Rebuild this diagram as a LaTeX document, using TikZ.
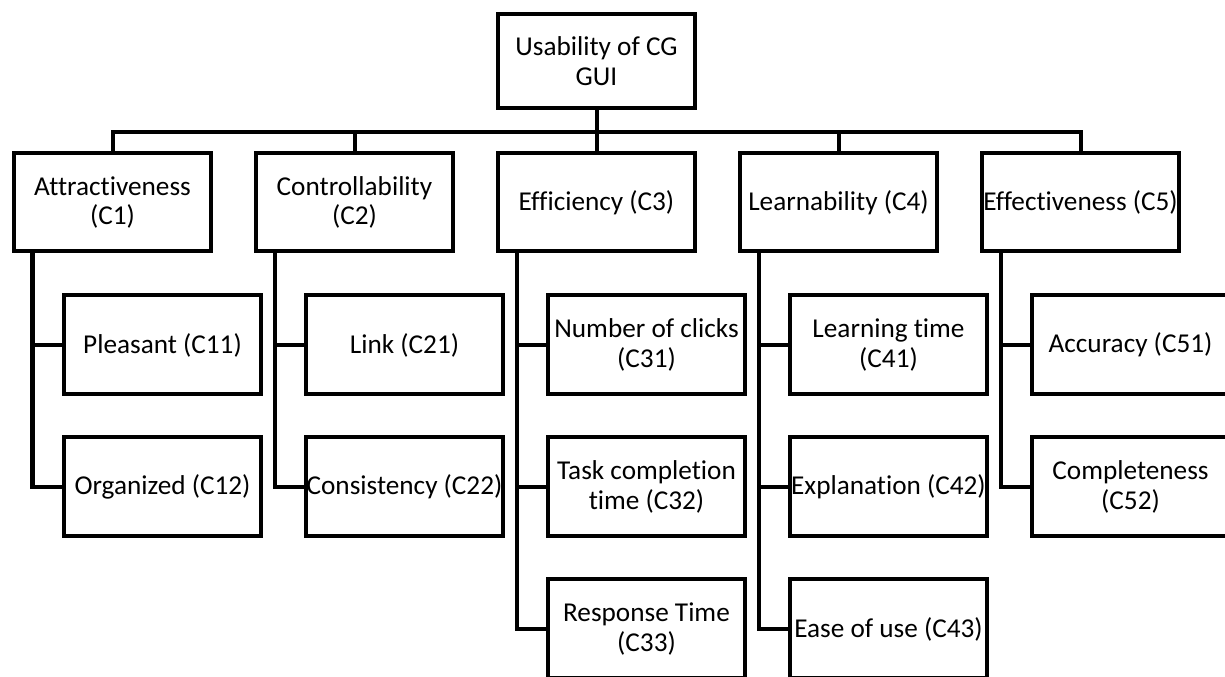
\documentclass[tikz,border=0pt]{standalone}
\usepackage{fontspec}
\setmainfont{Carlito}[Ligatures={NoCommon}]

\begin{document}
\begin{tikzpicture}[
      box/.style={rectangle, draw, line width=0.08cm, align=center,
                  minimum width=3.94cm, minimum height=1.96cm, inner sep=0pt,
                  font=\fontsize{15.5}{17}\selectfont},
      goal/.style={box, minimum height=1.88cm},
      crit/.style={box},
      sub/.style={box, minimum height=1.98cm},
      conn/.style={line width=0.08cm},
    ]
    \clip (0,0) rectangle (24.5,13.54);

    % Goal
    \node[goal] (root) at (11.93, 12.32) {Usability of CG\\GUI};

    % Criteria
    \node[crit] (c1) at (2.25, 9.49) {Attractiveness\\(C1)};
    \node[crit] (c2) at (7.09, 9.49) {Controllability\\(C2)};
    \node[crit] (c3) at (11.93, 9.49) {Efficiency (C3)};
    \node[crit] (c4) at (16.77, 9.49) {Learnability (C4)};
    \node[crit] (c5) at (21.61, 9.49) {Effectiveness (C5)};

    % Sub-criteria of C1 and C2
    \node[sub] (c11) at (3.25, 6.64) {Pleasant (C11)};
    \node[sub] (c12) at (3.25, 3.80) {Organized (C12)};
    \node[sub] (c21) at (8.09, 6.64) {Link (C21)};
    \node[sub] (c22) at (8.09, 3.80) {Consistency (C22)};

    % Sub-criteria of C3
    \node[sub] (c31) at (12.93, 6.64) {Number of clicks\\(C31)};
    \node[sub] (c32) at (12.93, 3.80) {Task completion\\time (C32)};
    \node[sub] (c33) at (12.93, 0.96) {Response Time\\(C33)};

    % Sub-criteria of C4
    \node[sub] (c41) at (17.77, 6.64) {Learning time\\(C41)};
    \node[sub] (c42) at (17.77, 3.80) {Explanation (C42)};
    \node[sub] (c43) at (17.77, 0.96) {Ease of use (C43)};

    % Sub-criteria of C5
    \node[sub] (c51) at (22.61, 6.64) {Accuracy (C51)};
    \node[sub] (c52) at (22.61, 3.80) {Completeness\\(C52)};

    % Lines: goal to criteria
    \draw[conn] (root.south) -- ++(0,-0.44) -| (c1.north);
    \draw[conn] (root.south) -- ++(0,-0.44) -| (c2.north);
    \draw[conn] (root.south) -- (c3.north);
    \draw[conn] (root.south) -- ++(0,-0.44) -| (c4.north);
    \draw[conn] (root.south) -- ++(0,-0.44) -| (c5.north);

    % Lines: criteria to sub-criteria
    \draw[conn] ([xshift=-1.6cm]c1.south) |- (c11.west);
    \draw[conn] ([xshift=-1.6cm]c1.south) |- (c12.west);
    \draw[conn] ([xshift=-1.6cm]c2.south) |- (c21.west);
    \draw[conn] ([xshift=-1.6cm]c2.south) |- (c22.west);
    \draw[conn] ([xshift=-1.6cm]c3.south) |- (c31.west);
    \draw[conn] ([xshift=-1.6cm]c3.south) |- (c32.west);
    \draw[conn] ([xshift=-1.6cm]c3.south) |- (c33.west);
    \draw[conn] ([xshift=-1.6cm]c4.south) |- (c41.west);
    \draw[conn] ([xshift=-1.6cm]c4.south) |- (c42.west);
    \draw[conn] ([xshift=-1.6cm]c4.south) |- (c43.west);
    \draw[conn] ([xshift=-1.6cm]c5.south) |- (c51.west);
    \draw[conn] ([xshift=-1.6cm]c5.south) |- (c52.west);

\end{tikzpicture}
\end{document}
